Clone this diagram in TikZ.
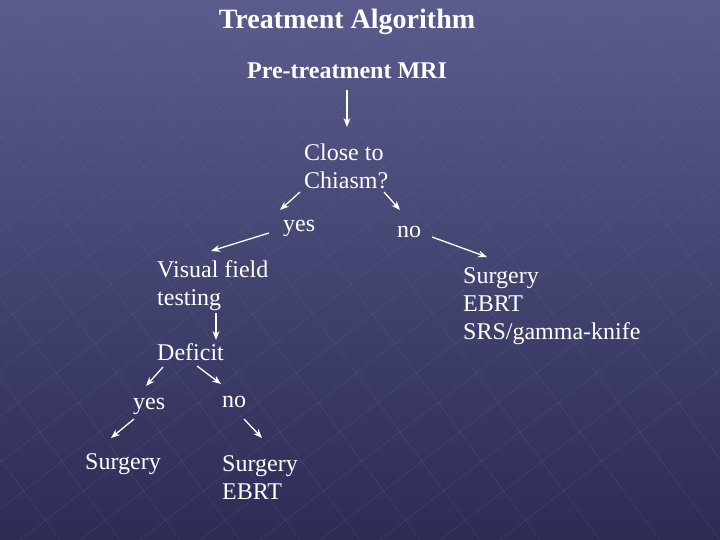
\documentclass[tikz,border=0pt]{standalone}
\usepackage{fontspec}
\setmainfont{Liberation Serif}
\usetikzlibrary{arrows.meta}
\begin{document}
\begin{tikzpicture}[x=1pt,y=-1pt,
  txt/.style={text=white,font=\fontsize{24}{28}\selectfont,align=left,anchor=west,inner sep=0pt},
  arr/.style={white,line width=1.3pt,-{Stealth[length=9pt,width=7pt]}}]
\definecolor{bgtop}{HTML}{5B5C8C}
\definecolor{bgbot}{HTML}{2C2C55}
\definecolor{gridc}{HTML}{6E6FA0}
\shade[top color=bgtop,bottom color=bgbot] (0,0) rectangle (720,540);
\useasboundingbox (0,0) rectangle (720,540);
\begin{scope}[gridc,line width=0.6pt,opacity=0.25]
\foreach \i in {-400,-340,...,720} {\draw (\i,0) -- (\i+400,540);}
\foreach \i in {0,60,...,1200} {\draw (\i,0) -- (\i-700,540);}
\end{scope}
\node[text=white,font=\bfseries\fontsize{28}{32}\selectfont] (title) at (347,22) {Treatment Algorithm};
\node[text=white,font=\bfseries\fontsize{24}{28}\selectfont] (mri) at (347,71) {Pre-treatment MRI};
\node[txt] (chiasm) at (304,166) {Close to\\Chiasm?};
\node[txt] (yes1) at (283,228) {yes};
\node[txt] (no1) at (397,232) {no};
\node[txt] (vf) at (157,286) {Visual field\\testing};
\node[txt] (def) at (157,352) {Deficit};
\node[txt] (yes2) at (133,406) {yes};
\node[txt] (no2) at (222,402) {no};
\node[txt] (s1) at (85,464) {Surgery};
\node[txt] (s2) at (222,478) {Surgery\\EBRT};
\node[txt] (s3) at (463,306) {Surgery\\EBRT\\SRS/gamma-knife};
\coordinate (a1) at (347,90); \coordinate (a2) at (347,127);
\draw[arr] (a1) -- (a2);
\coordinate (b1) at (300,192); \coordinate (b2) at (280,210);
\draw[arr] (b1) -- (b2);
\coordinate (c1) at (384,192); \coordinate (c2) at (400,210);
\draw[arr] (c1) -- (c2);
\coordinate (d1) at (269,233); \coordinate (d2) at (211,251);
\draw[arr] (d1) -- (d2);
\coordinate (e1) at (432,237); \coordinate (e2) at (487,257);
\draw[arr] (e1) -- (e2);
\coordinate (f1) at (216,313); \coordinate (f2) at (216,340);
\draw[arr] (f1) -- (f2);
\coordinate (g1) at (163,367); \coordinate (g2) at (146,386);
\draw[arr] (g1) -- (g2);
\coordinate (h1) at (197,366); \coordinate (h2) at (221,384);
\draw[arr] (h1) -- (h2);
\coordinate (i1) at (134,419); \coordinate (i2) at (111,438);
\draw[arr] (i1) -- (i2);
\coordinate (j1) at (244,419); \coordinate (j2) at (262,438);
\draw[arr] (j1) -- (j2);
\end{tikzpicture}
\end{document}
